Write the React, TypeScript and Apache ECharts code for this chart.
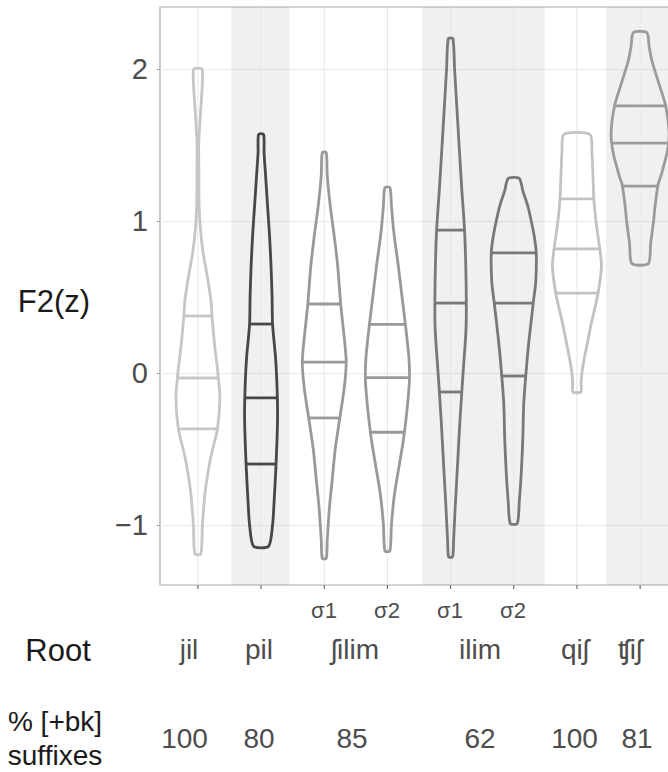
import React, { useEffect, useRef } from "react";
import * as echarts from "echarts";

// ---- data ----
const CATEGORIES = ["jil", "pil", "ʃilim σ1", "ʃilim σ2", "ilim σ1", "ilim σ2", "qiʃ", "ʧiʃ"];
const X_POS = [1, 2, 3, 4, 5, 6, 7, 8];

// density profiles: [F2(z) value, density half-width]
const PROFILE_JIL: number[][] = [[2.0, 4], [1.92, 4.5], [1.8, 3.5], [1.65, 2], [1.5, 0.8], [1.3, 1], [1.1, 1.2], [0.95, 2.5], [0.8, 5], [0.65, 9], [0.48, 13], [0.38, 14], [0.2, 16.5], [0.0, 20], [-0.16, 22], [-0.37, 19.5], [-0.55, 13], [-0.77, 7.5], [-1.0, 4.5], [-1.19, 3]];
const PROFILE_PIL: number[][] = [[1.57, 2.5], [1.45, 3], [1.3, 4.5], [1.1, 6.5], [0.9, 8.5], [0.7, 10], [0.5, 11], [0.32, 11.5], [0.1, 14.5], [-0.1, 16], [-0.3, 16.5], [-0.6, 15], [-0.85, 13], [-1.0, 11.5], [-1.14, 7.5]];
const PROFILE_SHILIM_S1: number[][] = [[1.45, 2], [1.3, 3], [1.1, 6], [0.9, 10], [0.7, 13.5], [0.45, 16.5], [0.2, 20.5], [0.07, 22], [-0.1, 20], [-0.3, 15.5], [-0.5, 11], [-0.7, 8], [-0.9, 5], [-1.1, 3], [-1.22, 2]];
const PROFILE_SHILIM_S2: number[][] = [[1.22, 2.5], [1.1, 4], [0.92, 6.5], [0.7, 11], [0.48, 15], [0.32, 18], [0.1, 21.5], [-0.05, 22], [-0.25, 19.5], [-0.44, 16], [-0.6, 12], [-0.8, 7], [-1.0, 4], [-1.17, 2.5]];
const PROFILE_ILIM_S1: number[][] = [[2.2, 2.3], [2.0, 4], [1.8, 5.8], [1.5, 8.5], [1.2, 11.3], [0.94, 14], [0.6, 15.5], [0.3, 15.5], [0.0, 12.5], [-0.3, 9.5], [-0.6, 7], [-0.9, 4.5], [-1.1, 3], [-1.21, 2]];
const PROFILE_ILIM_S2: number[][] = [[1.28, 5.5], [1.2, 9], [1.1, 14], [1.0, 17.5], [0.9, 20.5], [0.79, 22.5], [0.6, 22], [0.46, 19.5], [0.2, 15], [-0.02, 12], [-0.2, 10], [-0.44, 9], [-0.66, 7.5], [-0.85, 5.5], [-0.99, 3.5]];
const PROFILE_QISH: number[][] = [[1.57, 13], [1.45, 15], [1.3, 16], [1.14, 17], [1.0, 19], [0.81, 23], [0.7, 24.5], [0.52, 21], [0.33, 14.5], [0.2, 10.5], [0.1, 7.5], [0.0, 5], [-0.07, 4.2], [-0.125, 4]];
const PROFILE_TSHISH: number[][] = [[2.24, 6.7], [2.15, 9], [2.05, 12], [1.9, 19], [1.76, 25.5], [1.58, 29], [1.45, 27], [1.3, 21], [1.24, 18], [1.1, 15], [1.0, 13.5], [0.85, 10.5], [0.72, 8.3]];
const PROFILES = [PROFILE_JIL, PROFILE_PIL, PROFILE_SHILIM_S1, PROFILE_SHILIM_S2, PROFILE_ILIM_S1, PROFILE_ILIM_S2, PROFILE_QISH, PROFILE_TSHISH];

// quartiles (75%, 50%, 25%)
const QUARTILES: number[][] = [
  [0.375, -0.033, -0.368],
  [0.322, -0.164, -0.599],
  [0.454, 0.072, -0.296],
  [0.32, -0.03, -0.39],
  [0.94, 0.46, -0.125],
  [0.79, 0.46, -0.02],
  [1.145, 0.816, 0.526],
  [1.757, 1.513, 1.23],
];

const Y_TICKS = [-1, 0, 1, 2];
const BANDS: number[][] = [[1.53, 2.45], [4.55, 6.49], [7.46, 8.6]];

const SIGMA_LABELS = ["σ1", "σ2", "σ1", "σ2"];
const ROOT_LABELS = ["jil", "pil", "ʃilim", "ilim", "qiʃ", "ʧiʃ"];
const BK_PERCENT = ["100", "80", "85", "62", "100", "81"];

// ---- styles / layout ----
const COLORS = ["#c6c6c6", "#474747", "#999999", "#999999", "#787878", "#787878", "#c2c2c2", "#9b9b9b"];
const Y_MIN = -1.395;
const Y_MAX = 2.408;
const X_MIN = 0.4;
const X_MAX = 8.6;
const DENSITY_SCALE = 1 / 63.2;
const LINE_W = 2.8;
const FONT = '"Liberation Sans", Arial, "DejaVu Sans", sans-serif';

const SIGMA_X = [324, 387, 450, 513];
const ROOT_X = [189, 259, 355, 480, 575, 630];
const PCT_X = [184.5, 259, 352, 480, 574.5, 637];

function interpWidth(prof: number[][], q: number): number {
  for (let i = 0; i < prof.length - 1; i++) {
    const [y0, w0] = prof[i];
    const [y1, w1] = prof[i + 1];
    if ((q <= y0 && q >= y1) || (q >= y0 && q <= y1)) {
      const t = y1 === y0 ? 0 : (q - y0) / (y1 - y0);
      return w0 + t * (w1 - w0);
    }
  }
  return prof[prof.length - 1][1];
}

export default function App() {
  const ref = useRef<HTMLDivElement>(null);
  useEffect(() => {
    if (!ref.current) return;
    const chart = echarts.init(ref.current, null, { renderer: "svg" });

    const graphics: any[] = [];
    const txt = (text: string, x: number, y: number, size: number, color: string) =>
      graphics.push({
        type: "text",
        x,
        y,
        style: { text, fill: color, font: `${size}px ${FONT}`, textAlign: "center", textVerticalAlign: "middle" },
      });
    txt("F2(z)", 54, 301, 31, "#1a1a1a");
    txt("Root", 58, 650, 31, "#1a1a1a");
    txt("% [+bk]", 55, 721, 28, "#1a1a1a");
    txt("suffixes", 55, 755, 28, "#1a1a1a");
    SIGMA_LABELS.forEach((s, i) => txt(s, SIGMA_X[i], 610, 22, "#4d4d4d"));
    ROOT_LABELS.forEach((s, i) => txt(s, ROOT_X[i], 649, 28, "#4d4d4d"));
    BK_PERCENT.forEach((s, i) => txt(s, PCT_X[i], 738, 28, "#4d4d4d"));

    chart.setOption({
      animation: false,
      grid: {
        left: 160,
        top: 7,
        width: 518,
        height: 578,
        show: true,
        borderColor: "#aaaaaa",
        borderWidth: 1.2,
        backgroundColor: "#ffffff",
      },
      xAxis: {
        type: "value",
        min: X_MIN,
        max: X_MAX,
        axisLine: { show: false },
        axisTick: { show: false },
        axisLabel: { show: false },
        splitLine: { show: false },
      },
      yAxis: {
        type: "value",
        min: Y_MIN,
        max: Y_MAX,
        splitNumber: 4,
        axisLine: { show: false },
        axisTick: { show: true, length: 3, lineStyle: { color: "#999999" }, customValues: Y_TICKS },
        axisLabel: {
          customValues: Y_TICKS,
          margin: 12,
          color: "#4d4d4d",
          fontSize: 29,
          fontFamily: FONT,
          formatter: (v: number) => (Number.isInteger(v) ? (v < 0 ? "\u2212" + Math.abs(v) : String(v)) : ""),
        },
        splitLine: { show: true, lineStyle: { color: "#ebebeb", width: 1 } },
      },
      graphic: graphics,
      series: [
        {
          type: "custom",
          name: "bands",
          clip: true,
          z: 1,
          silent: true,
          encode: { x: [0, 1] },
          data: BANDS,
          renderItem: (params: any, api: any) => {
            const p0 = api.coord([api.value(0), Y_MAX]);
            const p1 = api.coord([api.value(1), Y_MIN]);
            return {
              type: "rect",
              shape: { x: p0[0], y: p0[1], width: p1[0] - p0[0], height: p1[1] - p0[1] },
              style: { fill: "rgba(16,48,48,0.065)" },
            };
          },
        },
        {
          type: "custom",
          name: "xgrid",
          clip: false,
          z: 2,
          silent: true,
          encode: { x: 0 },
          data: X_POS.map((x) => [x]),
          renderItem: (params: any, api: any) => {
            const x = api.value(0);
            const top = api.coord([x, Y_MAX]);
            const bot = api.coord([x, Y_MIN]);
            return {
              type: "group",
              children: [
                { type: "line", shape: { x1: top[0], y1: top[1], x2: bot[0], y2: bot[1] }, style: { stroke: "#e6e6e6", lineWidth: 1 } },
                { type: "line", shape: { x1: bot[0], y1: bot[1], x2: bot[0], y2: bot[1] + 4 }, style: { stroke: "#555555", lineWidth: 1 } },
              ],
            };
          },
        },
        {
          type: "custom",
          name: "violins",
          clip: false,
          z: 3,
          encode: { x: 0, y: 1 },
          data: X_POS.map((x, i) => [x, QUARTILES[i][1]]),
          renderItem: (params: any, api: any) => {
            const i = params.dataIndex;
            const cx = X_POS[i];
            const prof = PROFILES[i];
            const color = COLORS[i];
            const right = prof.map(([y, d]) => api.coord([cx + d * DENSITY_SCALE, y]));
            const left = prof.slice().reverse().map(([y, d]) => api.coord([cx - d * DENSITY_SCALE, y]));
            const children: any[] = [
              {
                type: "polygon",
                shape: { points: right.concat(left), smooth: 0.25 },
                style: { fill: "none", stroke: color, lineWidth: LINE_W, lineJoin: "round" },
              },
            ];
            QUARTILES[i].forEach((q) => {
              const w = interpWidth(prof, q) * DENSITY_SCALE;
              const a = api.coord([cx - w, q]);
              const b = api.coord([cx + w, q]);
              children.push({
                type: "line",
                shape: { x1: a[0], y1: a[1], x2: b[0], y2: b[1] },
                style: { stroke: color, lineWidth: LINE_W },
              });
            });
            return { type: "group", children };
          },
        },
      ],
    });
    return () => chart.dispose();
  }, []);
  return (
    <div style={{ position: "absolute", left: 0, top: 0, width: 668, height: 772, overflow: "hidden", background: "#ffffff" }}>
      <div ref={ref} style={{ width: 700, height: 772 }} />
    </div>
  );
}
